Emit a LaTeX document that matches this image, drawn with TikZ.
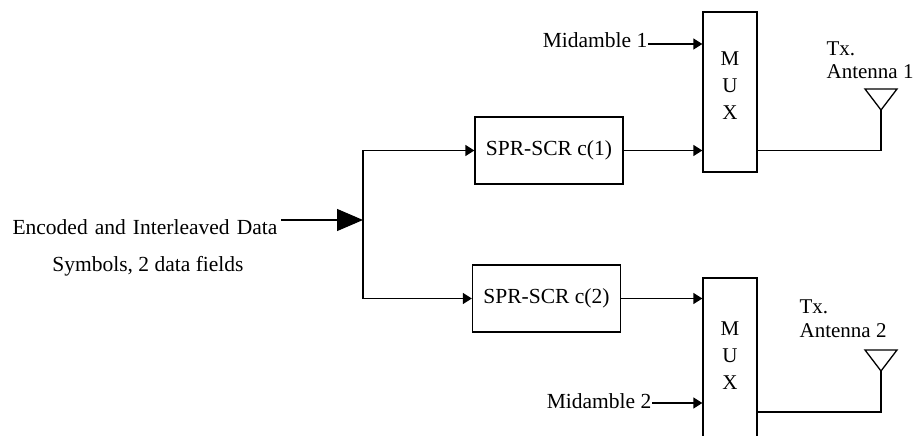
\documentclass[tikz,border=0pt]{standalone}
\usepackage{fontspec}
\setmainfont{Liberation Serif}
\usetikzlibrary{arrows.meta, positioning}

\begin{document}
\begin{tikzpicture}[x=1pt, y=-1pt, line width=1.3pt,
    every node/.style={font=\fontsize{21.5}{24}\selectfont, inner sep=0pt},
    blk/.style={draw, minimum width=148pt, minimum height=67pt},
    muxbox/.style={draw, minimum width=54pt},
    muxtxt/.style={align=center, font=\fontsize{21}{27}\selectfont},
    antlbl/.style={align=left, anchor=base west, font=\fontsize{21}{23.5}\selectfont},
    arr/.style={-{Triangle[length=9pt,width=11pt]}},
    bigarr/.style={-{Triangle[length=26pt,width=22pt]}}]
  \clip (0,0) rectangle (914,436);

  % input data
  \node[anchor=base east] (enc) at (278,234)
    {\spaceskip=0.33em\relax Encoded and Interleaved Data};
  \node[anchor=base] (sym) at (148,271) {Symbols, 2 data fields};
  \coordinate (in) at (281,220);
  \coordinate (split) at (363,220);
  \draw[bigarr] (in) -- (split);

  % spreading and scrambling
  \node[blk] (spr1) at (549,150.5) {SPR-SCR c(1)};
  \node[blk] (spr2) at (546.5,298.5) {SPR-SCR c(2)};
  \draw[arr] (split) |- (spr1.west);
  \draw[arr] (split) |- (spr2.west);

  % multiplexers
  \node[muxbox, minimum height=160pt] (mux1) at (730,92) {};
  \node[muxtxt] (mux1txt) at (730,86) {M\\U\\X};
  \node[muxbox, minimum height=172pt] (mux2) at (730,364) {};
  \node[muxtxt] (mux2txt) at (730,356) {M\\U\\X};
  \draw[arr] (spr1.east) -- (spr1.east -| mux1.west);
  \draw[arr] (spr2.east) -- (spr2.east -| mux2.west);

  \node[anchor=base east] (mid1) at (648,48) {Midamble 1};
  \node[anchor=base east] (mid2) at (652,408) {Midamble 2};
  \coordinate (m1) at ([yshift=4pt]mid1.base east);
  \coordinate (m2) at ([yshift=5pt]mid2.base east);
  \draw[arr] (m1) -- (m1 -| mux1.west);
  \draw[arr] (m2) -- (m2 -| mux2.west);

  % antennas
  \foreach \i/\y in {1/89, 2/350} {
    \draw (865,\y) -- (897,\y) -- (881,\y+21) -- cycle;
    \coordinate (ant\i) at (881,\y+21);
  }
  \draw (spr1.east -| mux1.east) -| (ant1);
  \coordinate (out2) at ([yshift=-48pt]mux2.east);
  \draw (out2) -| (ant2);

  \node[antlbl] (tx1) at (826,78.5) {Tx.\\Antenna 1};
  \node[antlbl] (tx2) at (799,337) {Tx.\\Antenna 2};
\end{tikzpicture}
\end{document}
